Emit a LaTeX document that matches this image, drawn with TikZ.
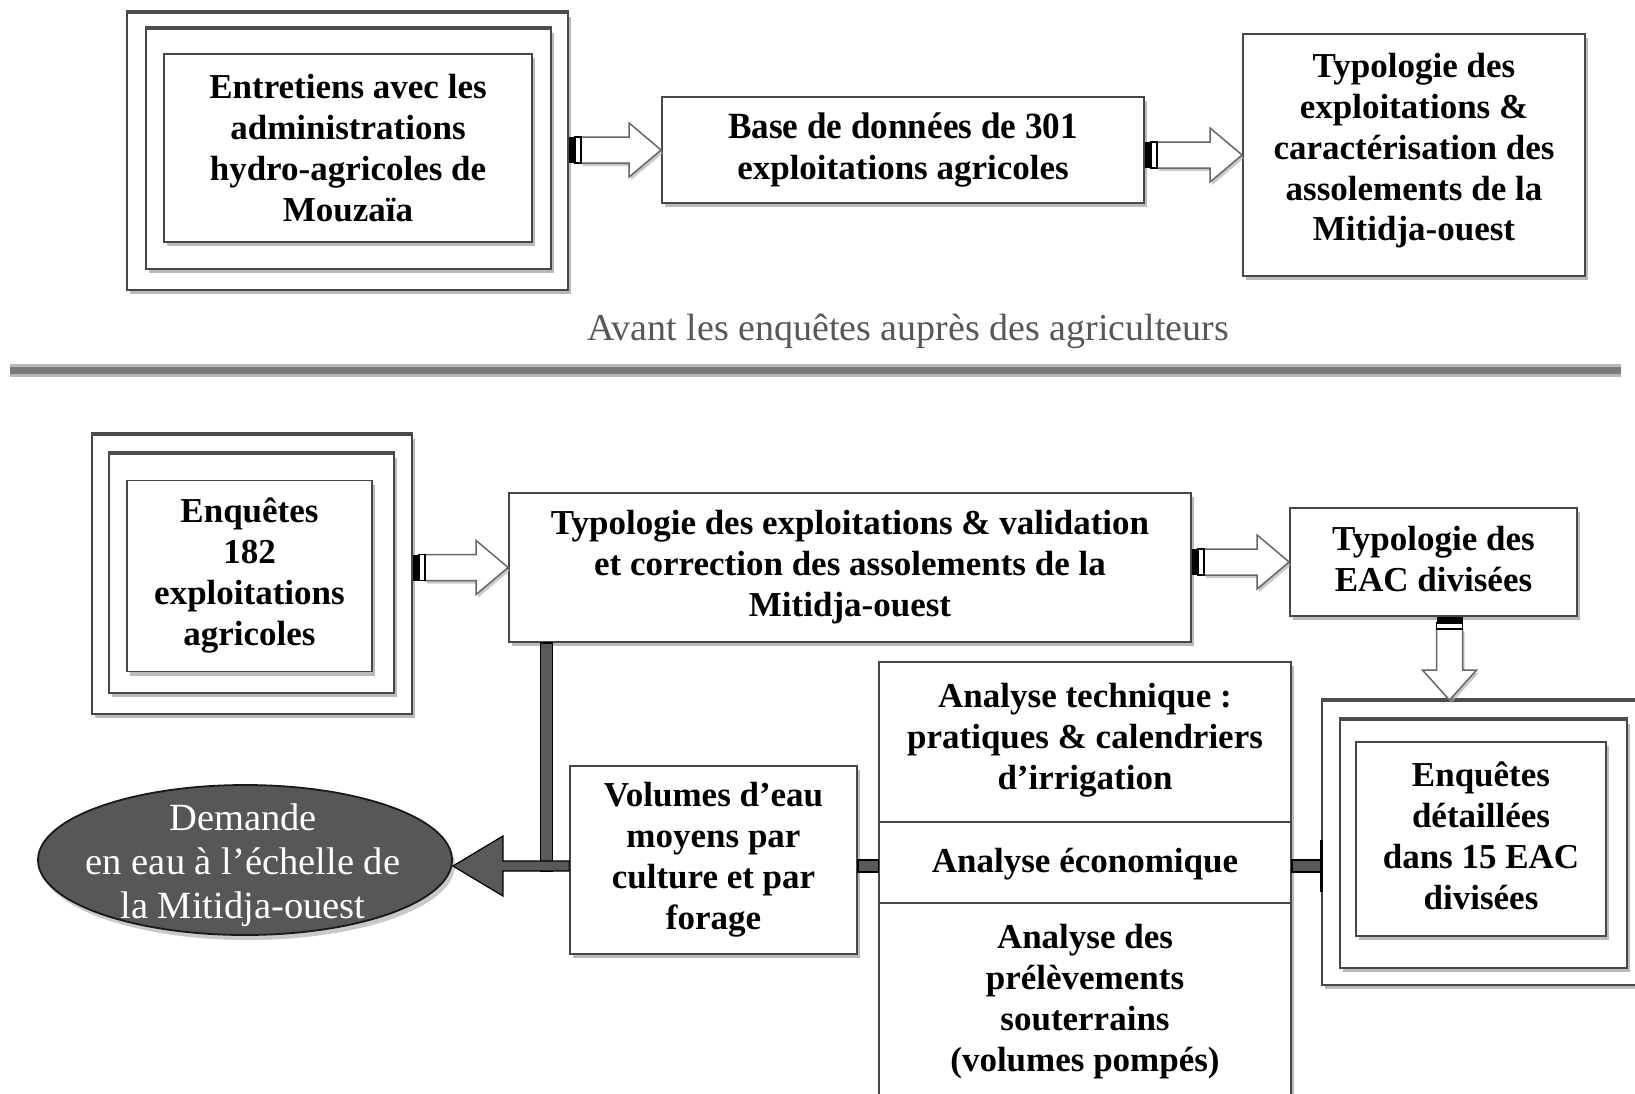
\documentclass[tikz,border=0pt]{standalone}
\usepackage{fontspec}
\setmainfont{Liberation Serif}
\newfontfamily\condfont[FakeStretch=0.95]{Liberation Serif}
\usetikzlibrary{shapes.geometric,shadows,calc}

\tikzset{
  boxst/.style={draw=black!72, line width=1.8pt, fill=white, align=center, inner sep=0pt,
    font=\bfseries\fontsize{35}{41}\selectfont,
    drop shadow={shadow xshift=3pt, shadow yshift=-4pt, fill=black!45, opacity=0.6}},
  topthick/.style={line width=4.5pt, draw=black!70},
  conn/.style={fill=black!65, draw=black, line width=1.2pt},
  barrow/.style={fill=white, draw=black!60, line width=1.5pt,
    drop shadow={shadow xshift=2pt, shadow yshift=-3pt, fill=black!35, opacity=0.6}},
  plaintext/.style={align=center, inner sep=0pt}
}

% right-pointing block arrow from #1 to #2 (at the height of #2)
\newcommand\rarrow[2]{%
  \filldraw[barrow] let \p1=(#1), \p2=(#2) in
    (\x1+12pt,\y2+13pt) -- (\x2-32pt,\y2+13pt) -- (\x2-32pt,\y2+27pt) -- (\x2,\y2)
    -- (\x2-32pt,\y2-27pt) -- (\x2-32pt,\y2-13pt) -- (\x1+12pt,\y2-13pt) -- cycle;
  \fill[black] let \p1=(#1), \p2=(#2) in (\x1,\y2-13pt) rectangle (\x1+6pt,\y2+13pt);
  \filldraw[fill=white, draw=black, line width=1.2pt] let \p1=(#1), \p2=(#2) in
    (\x1+6pt,\y2-13pt) rectangle (\x1+12pt,\y2+13pt);
}
% downward block arrow from #1 to the height of #2
\newcommand\darrow[2]{%
  \filldraw[barrow] let \p1=(#1), \p2=(#2) in
    (\x1-13pt,\y1-12pt) -- (\x1-13pt,\y2+30pt) -- (\x1-27pt,\y2+30pt) -- (\x1,\y2)
    -- (\x1+27pt,\y2+30pt) -- (\x1+13pt,\y2+30pt) -- (\x1+13pt,\y1-12pt) -- cycle;
  \fill[black] let \p1=(#1) in (\x1-13pt,\y1) rectangle (\x1+13pt,\y1-6pt);
  \filldraw[fill=white, draw=black, line width=1.2pt] let \p1=(#1) in
    (\x1-13pt,\y1-6pt) rectangle (\x1+13pt,\y1-12pt);
}

\begin{document}
\begin{tikzpicture}[x=1pt, y=-1pt]
\useasboundingbox (0,0) rectangle (1635,1093);
\clip (0,0) rectangle (1635,1093);
\fill[white] (0,0) rectangle (1635,1093);

% ---------- top part ----------
\node[boxst, minimum width=441pt, minimum height=277pt] (b1o) at (347.5,151.5) {};
\draw[topthick] (b1o.north west) -- (b1o.north east);
\node[boxst, minimum width=405pt, minimum height=240pt] (b1m) at (348.5,149) {};
\draw[topthick] (b1m.north west) -- (b1m.north east);
\node[boxst, minimum width=368pt, minimum height=188pt] (b1) at (348,148)
  {Entretiens avec les\\administrations\\hydro-agricoles de\\Mouzaïa};

\node[boxst, minimum width=482pt, minimum height=106pt] (b2) at (903,150)
  {{\condfont\bfseries\fontsize{37}{40}\selectfont Base de données de 301}\\exploitations agricoles};

\node[boxst, minimum width=342pt, minimum height=242pt] (b3) at (1414,155) {};
\node[plaintext, font=\bfseries\fontsize{35}{40.75}\selectfont] (b3t) at (1414,151)
  {Typologie des\\exploitations \&\\caractérisation des\\assolements de la\\Mitidja-ouest};

\rarrow{b1o.east}{b2.west}
\rarrow{b2.east}{b3.west}

\node[plaintext, text=black!66, font=\fontsize{38}{40}\selectfont] (avant) at (908,331)
  {Avant les enquêtes auprès des agriculteurs};

\draw[line width=13pt, black!28] (10,370) -- (1621,370);
\draw[line width=7pt, black!52] (10,370) -- (1621,370);

% ---------- bottom part ----------
\node[boxst, minimum width=320pt, minimum height=279pt] (b4o) at (252,574.5) {};
\draw[topthick] (b4o.north west) -- (b4o.north east);
\node[boxst, minimum width=285pt, minimum height=239pt] (b4m) at (251.5,573.5) {};
\draw[topthick] (b4m.north west) -- (b4m.north east);
\node[boxst, minimum width=245pt, minimum height=191pt] (b4) at (249.5,576)
  {Enquêtes\\182\\exploitations\\agricoles};

\node[boxst, minimum width=682pt, minimum height=149pt] (b5) at (850,567.5)
  {Typologie des exploitations \& validation\\et correction des assolements de la\\Mitidja-ouest};

\node[boxst, minimum width=287pt, minimum height=108pt] (b6) at (1433.5,562) {};
\node[plaintext, font=\bfseries\fontsize{35}{41}\selectfont] (b6t) at (1433.5,559)
  {Typologie des\\EAC divisées};

\rarrow{b4o.east}{b5.west}
\rarrow{b5.east}{b6.west}

\node[boxst, minimum width=328pt, minimum height=284pt] (b7o) at (1486,843) {};
\draw[topthick] (b7o.north west) -- (b7o.north east);
\node[boxst, minimum width=287pt, minimum height=248pt] (b7m) at (1483.5,844) {};
\draw[topthick] (b7m.north west) -- (b7m.north east);
\node[boxst, minimum width=250pt, minimum height=194pt] (b7) at (1481,839) {};
\node[plaintext, font=\bfseries\fontsize{35}{41}\selectfont] (b7t) at (1481,836)
  {Enquêtes\\détaillées\\dans 15 EAC\\divisées};

\darrow{[xshift=16pt]b6.south}{b7o.north}

\node[boxst, minimum width=287pt, minimum height=188pt] (b8) at (713.5,860)
  {Volumes d’eau\\moyens par\\culture et par\\forage};

\node[boxst, minimum width=412pt, minimum height=160pt] (b9a) at (1085,742) {};
\node[plaintext, font=\bfseries\fontsize{35}{41}\selectfont] (b9at) at (1085,740)
  {Analyse technique :\\pratiques \& calendriers\\d’irrigation};
\node[boxst, minimum width=412pt, minimum height=81pt] (b9b) at (1085,862.5) {};
\node[plaintext, font=\bfseries\fontsize{35}{41}\selectfont] (b9bt) at (1085,864.5)
  {Analyse économique};
\node[boxst, minimum width=412pt, minimum height=197pt] (b9c) at (1085,1001.5)
  {Analyse des\\prélèvements\\souterrains\\(volumes pompés)};

\node[ellipse, fill=black!66, draw=black!90, line width=1.8pt, minimum width=414pt, minimum height=150pt,
  drop shadow={shadow xshift=3pt, shadow yshift=-5pt, fill=black!35, opacity=0.6}] (el) at (245,860) {};
\node[plaintext, text=white, font=\fontsize{38.5}{44}\selectfont] (elt) at (243,865)
  {Demande\\en eau à l’échelle de\\la Mitidja-ouest};

\coordinate (ax) at (0,866);

% connectors
\filldraw[conn] let \p1=([xshift=38pt]b5.south west), \p2=(ax) in
  (\x1-6pt,\y1) rectangle (\x1+6pt,\y2-5pt);
\filldraw[conn] let \p1=(el.east |- ax), \p2=(b8.west |- ax) in
  (\x2,\y1+5pt) -- (\x1+50pt,\y1+5pt) -- (\x1+50pt,\y1+30pt) -- (\x1,\y1)
  -- (\x1+50pt,\y1-30pt) -- (\x1+50pt,\y1-5pt) -- (\x2,\y1-5pt) -- cycle;
\filldraw[conn] let \p1=(b8.east |- ax), \p2=(b9b.west |- ax) in
  (\x1,\y1-6pt) rectangle (\x2,\y1+6pt);
\filldraw[conn] let \p1=(b9b.east |- ax), \p2=(b7o.west |- ax) in
  (\x1,\y1-6pt) rectangle (\x2,\y1+6pt);
\draw[line width=3pt] let \p1=(b7o.west |- ax) in (\x1,\y1+26pt) -- (\x1,\y1-26pt);
\end{tikzpicture}
\end{document}
